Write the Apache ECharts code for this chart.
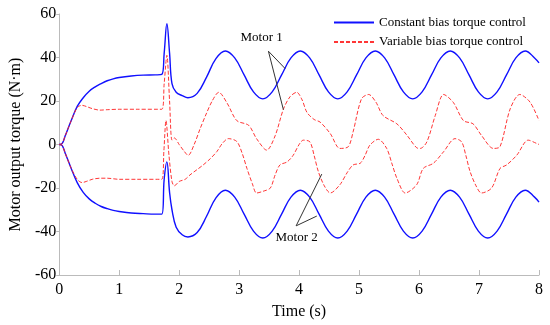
<!DOCTYPE html>
<html>
<head>
<meta charset="utf-8">
<script src="https://cdn.jsdelivr.net/npm/echarts@6/dist/echarts.min.js"></script>
<style>html,body{margin:0;padding:0;background:#fff;}#chart{width:550px;height:325px;}</style>
</head>
<body>
<div id="chart"></div>
<script>
// Time axis (s) for the constant bias torque curves
var blueTime = [0,0.05,0.1,0.2,0.3,0.4,0.5,0.6,0.7,0.8,0.9,1.0,1.2,1.4,1.6,1.71,1.75,1.795,1.84,1.88,1.95,2.05,2.145,2.30,2.457,2.613,
  2.77,2.926,3.083,3.239,3.395,3.551,3.708,3.864,4.02,4.176,4.333,4.489,4.645,4.801,4.958,5.114,5.27,5.426,5.583,5.739,5.895,6.051,6.208,6.364,6.52,6.676,6.833,6.989,7.145,7.301,7.458,7.614,7.77,7.926,8.0];
// Constant bias torque control, Motor 1 (N·m)
var blueMotor1 = [0,0.5,4,11,17.5,21.5,24.5,26.5,28,29.3,30.2,30.8,31.5,31.9,32,32.2,42,55.5,42,28,24,22.5,21.5,23.5,31,39.5,
  43,39.8,32,24.2,21,24.2,32,39.8,43,39.8,32,24.2,21,24.2,32,39.8,43,39.8,32,24.2,21,24.2,32,39.8,43,39.8,32,24.2,21,24.2,32,39.8,43,39.8,37.5];
// Constant bias torque control, Motor 2 (N·m)
var blueMotor2 = [0,-0.5,-4,-11,-17.5,-22,-25,-27,-28.5,-29.5,-30.3,-30.8,-31.5,-31.8,-32,-32,-16,-8,-22,-30,-38,-41.5,-42.5,-40.5,-33,-24.5,
  -21,-24.2,-32,-39.8,-43,-39.8,-32,-24.2,-21,-24.2,-32,-39.8,-43,-39.8,-32,-24.2,-21,-24.2,-32,-39.8,-43,-39.8,-32,-24.2,-21,-24.2,-32,-39.8,-43,-39.8,-32,-24.2,-21,-24.2,-26.5];

// Variable bias torque control, Motor 1
var redTime1 = [0,0.05,0.1,0.2,0.3,0.38,0.45,0.55,0.68,0.8,1.0,1.3,1.71,1.75,1.795,1.84,1.88,1.92,2.0,2.08,2.15,2.25,2.35,2.45,2.55,2.66,2.8,2.96,3.16,3.29,3.46,3.6,3.74,3.85,3.96,4.05,4.13,4.25,4.35,4.52,4.68,4.82,4.9,5.04,5.16,5.28,5.4,5.63,5.8,5.96,6.02,6.13,6.27,6.41,6.57,6.74,6.9,7.04,7.24,7.35,7.52,7.68,7.85,8.0];
var redMotor1 = [0,0.5,4,11,17,18,17.5,16.5,15.8,16,16.2,16.2,16.2,28,41,20,2,3,0,-3,-5,0,7.3,14,20,24,19,11,8.8,2.7,-2.6,4,16.4,22,24,20.5,14.8,11.5,10.3,5,-1.8,-1,5.8,21,23,19.5,13.3,9.5,4.2,-1.5,-1.8,1.2,13.3,23,19.4,11,9.5,4.2,-1.8,-1,16.4,23,19.5,11];

// Variable bias torque control, Motor 2
var redTime2 = [0,0.05,0.1,0.2,0.3,0.38,0.45,0.55,0.68,0.8,1.0,1.3,1.71,1.745,1.78,1.83,1.88,1.92,2.0,2.1,2.18,2.3,2.4,2.52,2.63,2.72,2.82,2.96,3.05,3.13,3.22,3.29,3.4,3.52,3.6,3.68,3.8,3.9,4.0,4.07,4.18,4.25,4.32,4.42,4.52,4.68,4.8,4.9,5.02,5.1,5.18,5.32,5.46,5.55,5.63,5.77,5.96,6.07,6.24,6.41,6.6,6.71,6.78,6.85,6.95,7.04,7.21,7.35,7.46,7.63,7.82,7.96,8.0];
var redMotor2 = [0,-0.5,-4,-11,-16,-17.5,-17,-16,-15.5,-15.5,-16,-16,-16,-3,11,-5,-17,-19,-17,-16,-14,-11.5,-9.4,-6.5,-3.2,0.5,2.7,1.4,-4,-11,-18,-22.3,-21.5,-20,-14,-9.4,-8,-5,0,2,1.2,-5,-12.4,-19,-22.3,-18.5,-13,-9.4,-8.6,-5,-0.3,2.4,-1.8,-9,-15.5,-22.3,-18.5,-11,-8.6,-3.3,2.7,1.2,-5,-12.4,-19,-22.3,-20,-11,-9.4,-4.9,2,0.5,0];

var xTicks = [0,1,2,3,4,5,6,7,8];
var yTicks = [-60,-40,-20,0,20,40,60];
var legendNames = ['Constant bias torque control','Variable bias torque control'];

function pairs(t, v) { return t.map(function (x, i) { return [x, v[i]]; }); }

var FONT = '"Liberation Serif","Times New Roman",serif';
var chart = echarts.init(document.getElementById('chart'), null, {renderer: 'canvas'});

var arrowLine = {color: '#333', width: 1, type: 'solid'};
var option = {
  animation: false,
  backgroundColor: '#fff',
  grid: {left: 59, right: 11, top: 14, bottom: 47},
  legend: {
    orient: 'vertical', left: 328, top: 11, itemWidth: 40, itemHeight: 14, itemGap: 6.5,
    itemStyle: {opacity: 0},
    textStyle: {fontFamily: FONT, fontSize: 13, color: '#000'},
    data: legendNames
  },
  xAxis: {
    type: 'value', min: xTicks[0], max: xTicks[xTicks.length - 1], interval: 1,
    name: 'Time (s)', nameLocation: 'middle', nameGap: 29,
    nameTextStyle: {fontFamily: FONT, fontSize: 16, color: '#000'},
    axisLine: {onZero: false, lineStyle: {color: '#bbb'}},
    axisTick: {inside: true, length: 5, lineStyle: {color: '#bbb'}},
    axisLabel: {fontFamily: FONT, fontSize: 16, color: '#000', margin: 7},
    splitLine: {show: false}
  },
  yAxis: {
    type: 'value', min: yTicks[0], max: yTicks[yTicks.length - 1], interval: 20,
    name: 'Motor output torque (N·m)', nameLocation: 'middle', nameGap: 34,
    nameTextStyle: {fontFamily: FONT, fontSize: 16, color: '#000'},
    axisLine: {show: true, onZero: false, lineStyle: {color: '#bbb'}},
    axisTick: {show: true, inside: false, length: 3, lineStyle: {color: '#bbb'}},
    axisLabel: {fontFamily: FONT, fontSize: 16, color: '#000', margin: 3},
    splitLine: {show: false}
  },
  series: [
    {name: legendNames[0], type: 'line', data: pairs(blueTime, blueMotor1), showSymbol: false, symbol: 'none',
      smooth: 0.4, lineStyle: {color: '#1010ff', width: 1.4}, itemStyle: {color: '#1010ff'},
      markLine: {silent: true, symbol: ['none', 'arrow'], symbolSize: [0, 6], lineStyle: arrowLine, label: {show: false},
        data: [[{coord: [3.488, 42.9]}, {coord: [3.767, 34.9]}], [{coord: [3.488, 42.9]}, {coord: [3.738, 16]}]]},
      markPoint: {silent: true, symbol: 'circle', symbolSize: 0,
        label: {show: true, position: 'inside', formatter: 'Motor 1', fontFamily: FONT, fontSize: 13, color: '#000'},
        data: [{coord: [3.375, 49.1]}]}
    },
    {name: legendNames[0], type: 'line', data: pairs(blueTime, blueMotor2), showSymbol: false, symbol: 'none',
      smooth: 0.4, lineStyle: {color: '#1010ff', width: 1.4}, itemStyle: {color: '#1010ff'},
      markLine: {silent: true, symbol: ['none', 'arrow'], symbolSize: [0, 6], lineStyle: arrowLine, label: {show: false},
        data: [[{coord: [3.95, -37.4]}, {coord: [4.378, -13.6]}], [{coord: [3.95, -37.4]}, {coord: [4.295, -32.9]}]]},
      markPoint: {silent: true, symbol: 'circle', symbolSize: 0,
        label: {show: true, position: 'inside', formatter: 'Motor 2', fontFamily: FONT, fontSize: 13, color: '#000'},
        data: [{coord: [3.958, -42.7]}]}
    },
    {name: legendNames[1], type: 'line', data: pairs(redTime1, redMotor1), showSymbol: false, symbol: 'none',
      smooth: 0.3, lineStyle: {color: '#ff2020', width: 1, type: [4, 2], opacity: 0.9}, itemStyle: {color: '#ff2020'}},
    {name: legendNames[1], type: 'line', data: pairs(redTime2, redMotor2), showSymbol: false, symbol: 'none',
      smooth: 0.3, lineStyle: {color: '#ff2020', width: 1, type: [4, 2], opacity: 0.9}, itemStyle: {color: '#ff2020'}}
  ]
};
chart.setOption(option);
</script>
</body>
</html>
